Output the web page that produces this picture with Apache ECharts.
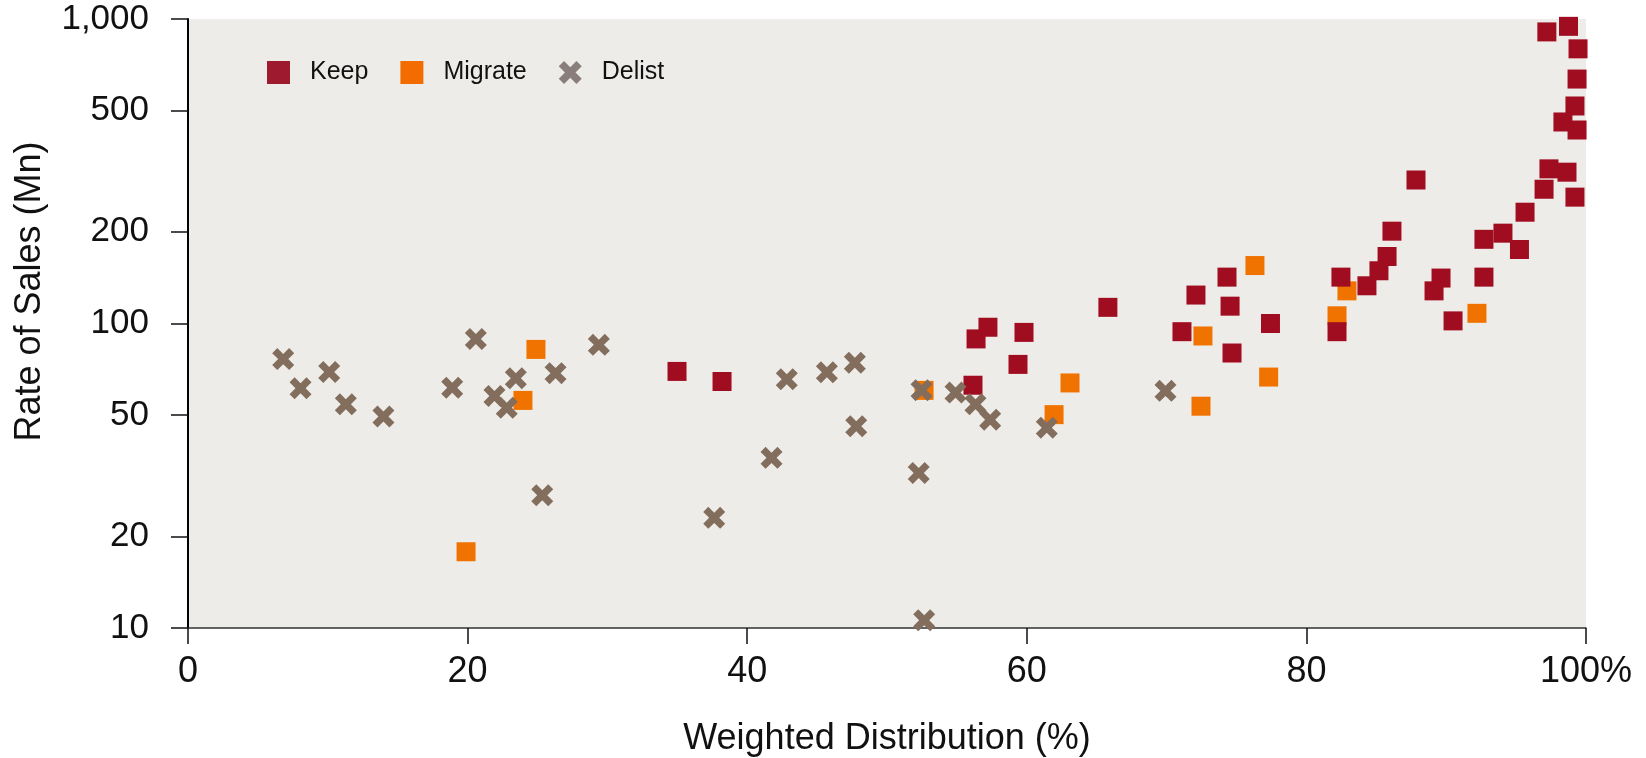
<!DOCTYPE html>
<html>
<head>
<meta charset="utf-8">
<script src="https://cdn.jsdelivr.net/npm/echarts@6/dist/echarts.min.js"></script>
<style>
html,body{margin:0;padding:0;background:#fff;}
#chart{width:1646px;height:758px;}
</style>
</head>
<body>
<div id="chart"></div>
<script>
// [weighted distribution %, rate of sales Mn]
const keepData = [
  [97.2, 907], [98.75, 946], [99.43, 798], [99.36, 635], [99.21, 518], [98.35, 459],
  [99.36, 432], [97.35, 322], [98.64, 314], [97.0, 276], [99.21, 260], [87.84, 296],
  [95.64, 232], [86.12, 201], [92.7, 189], [94.06, 198], [95.24, 175], [85.77, 166],
  [85.19, 149], [84.33, 133], [82.47, 142], [82.19, 94], [89.63, 141], [89.13, 128],
  [90.49, 102], [92.7, 142], [74.32, 142], [72.1, 124], [74.54, 114], [71.1, 94],
  [77.43, 100], [74.68, 80], [57.22, 97.2], [56.37, 89], [59.8, 93.5], [59.37, 73.4],
  [56.15, 62.7], [65.8, 113], [34.98, 69.6], [38.2, 64.5]
];
const migrateData = [
  [76.32, 155], [82.9, 128], [82.19, 106], [72.6, 91], [92.2, 108], [77.3, 66.7],
  [72.46, 53.5], [63.09, 63.8], [61.95, 50.2], [52.65, 60.3], [24.89, 82.2],
  [23.96, 55.9], [19.89, 17.8]
];
const delistData = [
  [6.81, 76.4], [10.1, 69.3], [8.05, 61.3], [11.29, 54.3], [13.98, 49.5], [20.59, 88.9],
  [18.9, 61.5], [21.92, 57.8], [22.8, 52.9], [23.45, 66.1], [26.29, 68.7], [29.39, 85.1],
  [25.34, 27.3], [37.64, 23.0], [41.74, 36.2], [42.83, 65.6], [45.7, 69.2], [47.7, 74.3],
  [47.8, 46.0], [52.47, 60.4], [52.27, 32.3], [52.66, 10.6], [54.9, 59.3], [56.33, 54.3],
  [57.38, 48.3], [61.43, 45.5], [69.92, 60.1]
];
const seriesNames = ['Keep', 'Migrate', 'Delist'];
const yTicks = [10, 20, 50, 100, 200, 500, 1000];
const xTicks = [0, 20, 40, 60, 80, 100];

const FONT = "'Liberation Sans', Arial, Helvetica, sans-serif";
const crossPath = 'path://M2.3,0 L5,2.7 L7.7,0 L10,2.3 L7.3,5 L10,7.7 L7.7,10 L5,7.3 L2.3,10 L0,7.7 L2.7,5 L0,2.3 Z';
const squarePath = 'path://M0,0 L10,0 L10,10 L0,10 Z';

const chart = echarts.init(document.getElementById('chart'), null, {renderer: 'canvas'});
chart.setOption({
  animation: false,
  textStyle: {fontFamily: FONT},
  grid: {
    left: 188, right: 60, top: 19, bottom: 130,
    outerBoundsMode: 'none', containLabel: false,
    show: true, backgroundColor: '#EEECE8', borderWidth: 0
  },
  legend: {
    left: 262, top: 55,
    itemWidth: 23, itemHeight: 23, itemGap: 32,
    textStyle: {fontSize: 25, color: '#111', fontFamily: FONT, padding: [0, 0, 0, 15]},
    data: [
      {name: seriesNames[0], icon: squarePath, itemStyle: {color: '#9E1A2E'}},
      {name: seriesNames[1], icon: squarePath, itemStyle: {color: '#F26C00'}},
      {name: seriesNames[2], icon: crossPath, itemStyle: {color: '#8A7E7B'}}
    ]
  },
  xAxis: {
    type: 'value', min: 0, max: 100, interval: 20,
    name: 'Weighted Distribution (%)', nameLocation: 'middle', nameGap: 93,
    nameTextStyle: {fontSize: 36, color: '#111', fontFamily: FONT},
    axisLine: {show: true, lineStyle: {color: '#333', width: 1.5}},
    axisTick: {show: true, inside: false, length: 16, lineStyle: {color: '#111', width: 1.5}},
    axisLabel: {
      fontSize: 36, color: '#111', margin: 26, fontFamily: FONT,
      formatter: v => (v === xTicks[xTicks.length - 1] ? v + '%' : String(v))
    },
    splitLine: {show: false}
  },
  yAxis: {
    type: 'log', logBase: 10, min: 10, max: 1000,
    name: 'Rate of Sales (Mn)', nameLocation: 'middle', nameGap: 140,
    nameTextStyle: {fontSize: 36, color: '#111', fontFamily: FONT, padding: [0, 0, 0, 64]},
    axisLine: {show: true, lineStyle: {color: '#000', width: 2}},
    axisTick: {show: true, inside: false, length: 17, customValues: yTicks, lineStyle: {color: '#111', width: 1.5}},
    axisLabel: {
      fontSize: 35, color: '#111', margin: 39, fontFamily: FONT,
      customValues: yTicks,
      formatter: v => Math.round(v).toLocaleString('en-US')
    },
    splitLine: {show: false},
    minorTick: {show: false}
  },
  series: [
    {
      name: seriesNames[1], type: 'scatter', data: migrateData,
      symbol: squarePath, symbolSize: 19,
      itemStyle: {color: '#F07300', opacity: 1}, z: 2
    },
    {
      name: seriesNames[0], type: 'scatter', data: keepData,
      symbol: squarePath, symbolSize: 19,
      itemStyle: {color: '#A00C20', opacity: 1}, z: 3
    },
    {
      name: seriesNames[2], type: 'scatter', data: delistData,
      symbol: crossPath, symbolSize: 22,
      itemStyle: {color: '#836E5E', opacity: 1}, z: 4
    }
  ]
});
</script>
</body>
</html>
